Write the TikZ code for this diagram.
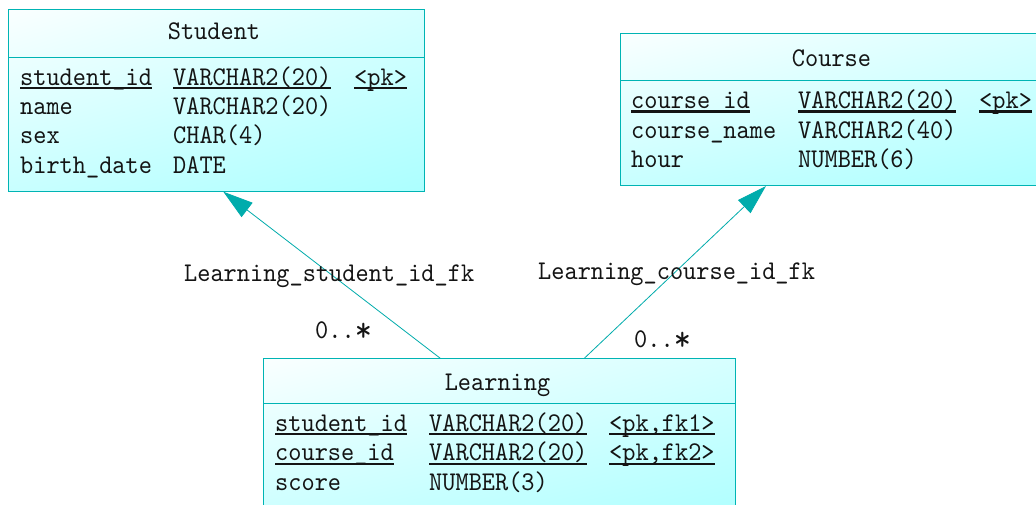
\documentclass[tikz,border=0pt]{standalone}
\usepackage{fontspec}
\usepackage{graphicx}
\usetikzlibrary{arrows.meta,shadings}
\newfontfamily\erfont[Extension=.otf,FakeStretch=0.93]{lmmono10-regular}

\definecolor{edgec}{RGB}{0,180,180}
\definecolor{linkc}{RGB}{0,172,172}
\definecolor{shUL}{RGB}{250,255,255}
\definecolor{shUR}{RGB}{214,255,255}
\definecolor{shLL}{RGB}{200,255,255}
\definecolor{shLR}{RGB}{172,255,255}
\definecolor{inkc}{RGB}{20,20,20}

% underlined key column entry
\newcommand\keyul[1]{\setbox0\hbox{#1}\rlap{\rule[-3.8pt]{\wd0}{2.1pt}}\box0}
% multiplicity star: a bit larger and lower than the font's own
\newcommand\mstar{\makebox[0.49em][l]{\raisebox{-2.5pt}{\scalebox{1.3}{*}}}}

\tikzset{
  entity/.style={rectangle, draw=edgec, line width=1pt, anchor=north west,
    inner sep=0pt, upper left=shUL, upper right=shUR,
    lower left=shLL, lower right=shLR},
  sep/.style={draw=edgec, line width=1pt},
  cell/.style={anchor=base west, inner sep=0pt, text=inkc,
    font=\erfont\fontsize{27}{30}\selectfont},
  title/.style={anchor=base, inner sep=0pt, text=inkc,
    font=\erfont\fontsize{27}{30}\selectfont},
  link/.style={draw=linkc, line width=0.8pt,
    -{Triangle[length=30pt,width=18pt,fill=linkc]}},
}

\begin{document}
\begin{tikzpicture}[x=1pt,y=-1pt]
\clip (0,0) rectangle (1036,505);
\fill[white] (0,0) rectangle (1036,505);

% ---------------- Student ----------------
\node[entity, minimum width=415.7pt, minimum height=181.4pt] (student) at (8.3,9.3) {};
\draw[sep] ([yshift=-48pt]student.north west) -- ([yshift=-48pt]student.north east);
\node[title] (student-t) at (214,40) {Student};
\node[cell] (st-1a) at (20,85.2)  {\keyul{student\_id}};
\node[cell] (st-1b) at (173,85.2) {\keyul{VARCHAR2(20)}};
\node[cell] (st-1c) at (354,85.2) {\keyul{<pk>}};
\node[cell] (st-2a) at (20,114.5)   {name};
\node[cell] (st-2b) at (173,114.5)  {VARCHAR2(20)};
\node[cell] (st-3a) at (20,143.8) {sex};
\node[cell] (st-3b) at (173,143.8){CHAR(4)};
\node[cell] (st-4a) at (20,173.1) {birth\_date};
\node[cell] (st-4b) at (173,173.1){DATE};

% ---------------- Course ----------------
\node[entity, minimum width=440pt, minimum height=151.7pt] (course) at (620,33.3) {};
\draw[sep] ([yshift=-47.4pt]course.north west) -- ([yshift=-47.4pt]course.north east);
\node[title] (course-t) at (831.5,66.5) {Course};
\node[cell] (co-1a) at (631,108.8)   {\keyul{course\_id}};
\node[cell] (co-1b) at (798,108.8)   {\keyul{VARCHAR2(20)}};
\node[cell] (co-1c) at (979,108.8)   {\keyul{<pk>}};
\node[cell] (co-2a) at (631,138.1) {course\_name};
\node[cell] (co-2b) at (798,138.1) {VARCHAR2(40)};
\node[cell] (co-3a) at (631,167.4) {hour};
\node[cell] (co-3b) at (798,167.4) {NUMBER(6)};

% ---------------- Learning ----------------
\node[entity, minimum width=471.7pt, minimum height=170pt] (learning) at (263.3,358.3) {};
\draw[sep] ([yshift=-45pt]learning.north west) -- ([yshift=-45pt]learning.north east);
\node[title] (learning-t) at (497.5,390) {Learning};
\node[cell] (le-1a) at (275,431.5) {\keyul{student\_id}};
\node[cell] (le-1b) at (429,431.5) {\keyul{VARCHAR2(20)}};
\node[cell] (le-1c) at (609,431.5) {\keyul{<pk,fk1>}};
\node[cell] (le-2a) at (275,460.8)   {\keyul{course\_id}};
\node[cell] (le-2b) at (429,460.8)   {\keyul{VARCHAR2(20)}};
\node[cell] (le-2c) at (609,460.8)   {\keyul{<pk,fk2>}};
\node[cell] (le-3a) at (275,490.1) {score};
\node[cell] (le-3b) at (429,490.1) {NUMBER(3)};

% ---------------- references ----------------
\draw[link] ([xshift=177pt]learning.north west) -- ([xshift=215pt]student.south west);
\draw[link] ([xshift=321pt]learning.north west) -- ([xshift=146pt]course.south west);

\node[cell] (fk1) at (184,281) {Learning\_student\_id\_fk};
\node[cell] (fk2) at (538,279) {Learning\_course\_id\_fk};
\node[cell] (m1) at (315,338.5) {0..\mstar};
\node[cell] (m2) at (634,347.5) {0..\mstar};
\end{tikzpicture}
\end{document}
